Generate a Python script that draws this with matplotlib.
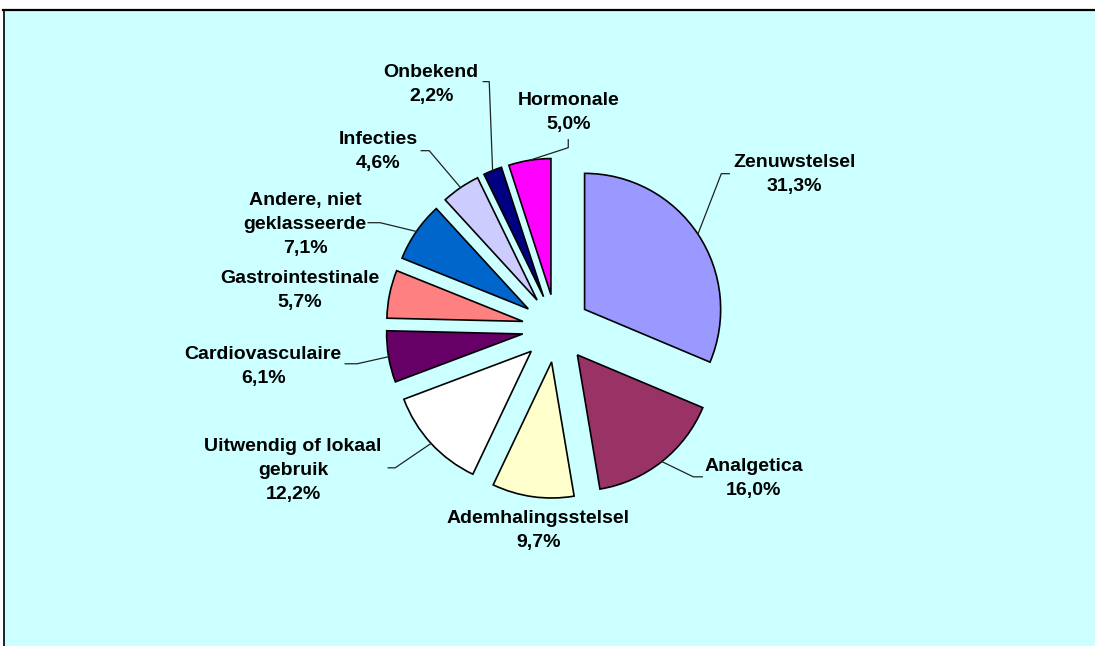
import numpy as np
import matplotlib
matplotlib.use("Agg")
import matplotlib.pyplot as plt
from matplotlib.patches import Rectangle
from matplotlib.lines import Line2D

categories = ["Zenuwstelsel", "Analgetica", "Ademhalingsstelsel",
              "Uitwendig of lokaal\ngebruik", "Cardiovasculaire",
              "Gastrointestinale", "Andere, niet\ngeklasseerde",
              "Infecties", "Onbekend", "Hormonale"]
values = [31.3, 16.0, 9.7, 12.2, 6.1, 5.7, 7.1, 4.6, 2.2, 5.0]
pct_labels = ["31,3%", "16,0%", "9,7%", "12,2%", "6,1%",
              "5,7%", "7,1%", "4,6%", "2,2%", "5,0%"]
colors = ["#9999FF", "#993366", "#FFFFCC", "#FFFFFF", "#660066",
          "#FF8080", "#0066CC", "#CCCCFF", "#000080", "#FF00FF"]

W, H = 1095, 646
# a hair larger than W x H so the figure background covers every pixel
fig = plt.figure(figsize=((W + 0.5) / 100, (H + 0.5) / 100), dpi=100)
fig.patch.set_facecolor("#CCFFFF")
fig.patch.set_edgecolor("none")
fig.patch.set_linewidth(0)

# white margin outside the chart area (top strip and left strip), then the frame lines
tr = fig.transFigure
fig.add_artist(Rectangle((0, 1 - 9.5 / H), 1, 9.5 / H + 0.01, transform=tr,
                         facecolor="white", edgecolor="none", linewidth=0))
fig.add_artist(Rectangle((0, 0), 3 / W, 1, transform=tr,
                         facecolor="white", edgecolor="none", linewidth=0))
fig.add_artist(Line2D([3 / W, 1.01], [1 - 10 / H, 1 - 10 / H], transform=tr,
                      color="black", linewidth=1.6))
fig.add_artist(Line2D([3.5 / W, 3.5 / W], [-0.01, 1 - 10 / H], transform=tr,
                      color="black", linewidth=1.2))

ax = fig.add_axes([0, 0, 1, 1])
ax.patch.set_visible(False)
for s in ax.spines.values():
    s.set_visible(False)

def img(x, y):
    return x, H - y

cx, cy = img(556, 328.5)
R = 136
EXPLODE = 34
wedges, _ = ax.pie(values, explode=[EXPLODE] * len(values), colors=colors,
                   startangle=90, counterclock=False, radius=R,
                   center=(cx, cy), frame=False,
                   wedgeprops=dict(edgecolor="black", linewidth=1.2, zorder=2))

ax.set_xlim(0, W)
ax.set_ylim(0, H)
ax.set_aspect("equal")
ax.axis("off")

# label block centres (image px) and leader knee points (image px)
label_pos = [(794, 174), (753, 478), (538, 530), (293, 470), (263, 366),
             (300, 290), (305, 224), (378, 151), (431, 84), (568, 112)]
leaders = {
    0: [(729, 174), (721, 174)],
    1: [(702, 477), (693, 477)],
    3: [(388, 468), (395, 468)],
    4: [(345, 364), (357, 364)],
    6: [(368, 223), (380, 223)],
    7: [(421, 151), (429, 151)],
    8: [(483, 82), (489, 82)],
    9: [(568, 140), (568, 148)],
}

for i, (cat, p) in enumerate(zip(categories, pct_labels)):
    x, y = img(*label_pos[i])
    ax.text(x, y, f"{cat}\n{p}", ha="center", va="center",
            multialignment="center", fontsize=14, fontweight="bold",
            family=["Liberation Sans", "DejaVu Sans"], linespacing=1.55,
            color="black", zorder=4)
    if i in leaders:
        w = wedges[i]
        th = np.deg2rad((w.theta1 + w.theta2) / 2)
        ex, ey = w.center
        px = ex + w.r * np.cos(th)
        py = ey + w.r * np.sin(th)
        pts = [img(*q) for q in leaders[i]] + [(px, py)]
        xs, ys = zip(*pts)
        ax.plot(xs, ys, color="#222222", linewidth=0.9, zorder=3)

fig.savefig("out.png", dpi=100, facecolor=fig.get_facecolor(), edgecolor="none")
